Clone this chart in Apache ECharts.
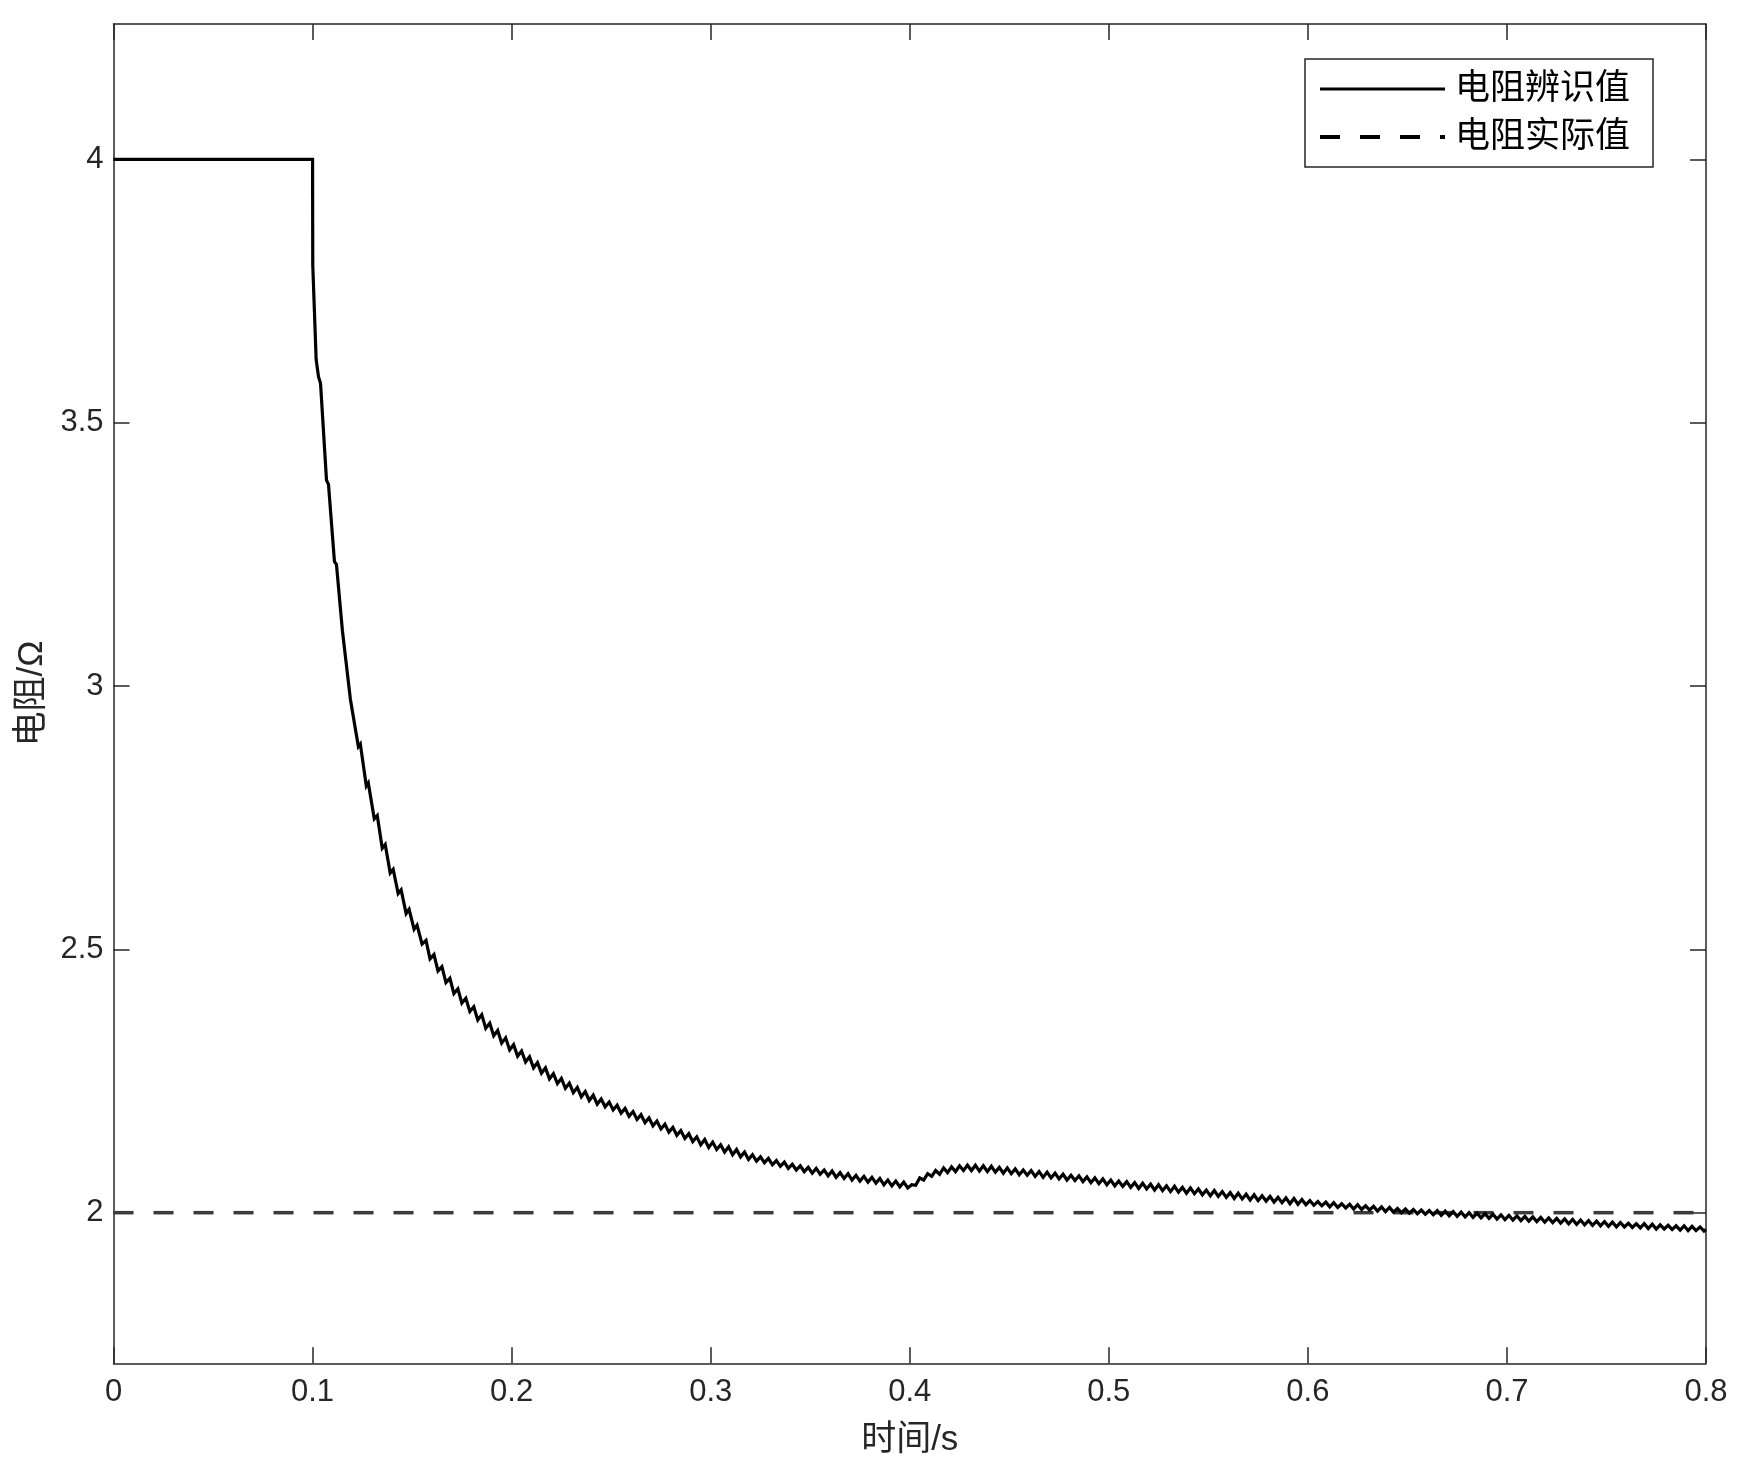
<!DOCTYPE html>
<html>
<head>
<meta charset="utf-8">
<script src="https://cdn.jsdelivr.net/npm/echarts@6/dist/echarts.min.js"></script>
<style>
  html, body { margin: 0; padding: 0; background: #fff; }
  #chart { width: 1746px; height: 1481px; }
</style>
</head>
<body>
<div id="chart"></div>
<script>
// ---------- data ----------
const xTicks = [0, 0.1, 0.2, 0.3, 0.4, 0.5, 0.6, 0.7, 0.8];
const yTicks = [2, 2.5, 3, 3.5, 4];
const seriesNames = ['电阻辨识值', '电阻实际值'];

// identified resistance: start-up and first steep steps (irregular sampling)
const earlyTimes = [0, 0.1, 0.1001, 0.1018, 0.103, 0.104, 0.107, 0.108, 0.111, 0.112,
  0.115, 0.116, 0.119, 0.120, 0.123, 0.124, 0.127, 0.128, 0.131, 0.1325,
  0.135, 0.1365, 0.139, 0.1405, 0.143, 0.1445, 0.147, 0.1485, 0.151, 0.1525];
const earlyValues = [4, 4, 3.800, 3.620, 3.587, 3.575, 3.391, 3.383, 3.236, 3.231,
  3.105, 3.102, 2.975, 2.978, 2.885, 2.890, 2.810, 2.816, 2.748, 2.754,
  2.692, 2.699, 2.645, 2.652, 2.606, 2.613, 2.568, 2.576, 2.538, 2.546];

// identified resistance: rippled part, one reading every 0.002 s from 0.155 s
const rippleStart = 0.155;
const rippleStep = 0.002;
const rippleValues = [
  // 0.155 - 0.245
  2.510, 2.517, 2.482, 2.490, 2.459, 2.467, 2.437, 2.445, 2.416, 2.425,
  2.398, 2.407, 2.382, 2.391, 2.366, 2.376, 2.350, 2.360, 2.336, 2.346,
  2.322, 2.332, 2.309, 2.319, 2.297, 2.307, 2.286, 2.296, 2.275, 2.285,
  2.265, 2.275, 2.254, 2.264, 2.245, 2.255, 2.236, 2.246, 2.228, 2.238,
  2.220, 2.230, 2.213, 2.223, 2.206, 2.216,
  // 0.247 - 0.319
  2.201, 2.210, 2.195, 2.204, 2.189, 2.198, 2.183, 2.192, 2.177, 2.186,
  2.171, 2.180, 2.165, 2.174, 2.159, 2.168, 2.153, 2.162, 2.147, 2.156,
  2.141, 2.150, 2.135, 2.144, 2.129, 2.139, 2.124, 2.134, 2.120, 2.129,
  2.115, 2.125, 2.110, 2.120, 2.106, 2.115, 2.101,
  // 0.321 - 0.413
  2.110, 2.098, 2.106, 2.095, 2.103, 2.091, 2.099, 2.088, 2.096, 2.084,
  2.092, 2.081, 2.089, 2.078, 2.086, 2.075, 2.084, 2.073, 2.081, 2.070,
  2.079, 2.067, 2.076, 2.065, 2.074, 2.062, 2.071, 2.060, 2.069, 2.058,
  2.067, 2.056, 2.065, 2.053, 2.062, 2.051, 2.060, 2.049, 2.058, 2.047,
  2.053, 2.052, 2.066, 2.062, 2.074, 2.069, 2.080,
  // 0.415 - 0.599
  2.073, 2.085, 2.076, 2.087, 2.078, 2.089, 2.080, 2.090, 2.080, 2.090,
  2.079, 2.089, 2.078, 2.088, 2.077, 2.086, 2.075, 2.085, 2.074, 2.083,
  2.072, 2.081, 2.071, 2.080, 2.069, 2.078, 2.067, 2.077, 2.066, 2.075,
  2.064, 2.073, 2.062, 2.071, 2.061, 2.070, 2.059, 2.068, 2.057, 2.066,
  2.055, 2.064, 2.053, 2.062, 2.051, 2.060, 2.050, 2.059, 2.048, 2.057,
  2.046, 2.056, 2.045, 2.054, 2.043, 2.053, 2.042, 2.051, 2.040, 2.050,
  2.039, 2.048, 2.037, 2.047, 2.036, 2.045, 2.034, 2.043, 2.032, 2.042,
  2.031, 2.040, 2.029, 2.038, 2.027, 2.037, 2.026, 2.035, 2.024, 2.034,
  2.023, 2.032, 2.022, 2.031, 2.020, 2.029, 2.019, 2.028, 2.017, 2.027,
  2.016, 2.025, 2.015,
  // 0.601 - 0.799
  2.023, 2.014, 2.021, 2.013, 2.020, 2.011, 2.019, 2.010, 2.017, 2.009,
  2.016, 2.007, 2.015, 2.006, 2.013, 2.005, 2.012, 2.003, 2.011, 2.002,
  2.010, 2.001, 2.008, 2.000, 2.007, 1.999, 2.006, 1.998, 2.005, 1.997,
  2.004, 1.996, 2.004, 1.995, 2.003, 1.994, 2.002, 1.993, 2.001, 1.992,
  2.000, 1.991, 1.999, 1.990, 1.998, 1.989, 1.997, 1.988, 1.996, 1.987,
  1.995, 1.986, 1.994, 1.985, 1.993, 1.984, 1.992, 1.983, 1.991, 1.982,
  1.990, 1.981, 1.989, 1.980, 1.988, 1.979, 1.987, 1.978, 1.986, 1.977,
  1.985, 1.976, 1.984, 1.975, 1.983, 1.974, 1.982, 1.973, 1.981, 1.973,
  1.980, 1.972, 1.979, 1.971, 1.979, 1.970, 1.978, 1.969, 1.977, 1.969,
  1.976, 1.968, 1.975, 1.967, 1.975, 1.966, 1.974, 1.966, 1.973, 1.965
];
const tailTimes = [0.8];
const tailValues = [1.968];

// actual resistance
const actualTimes = [0, 0.8];
const actualValues = [2, 2];

// ---------- build series data ----------
const identData = [];
earlyTimes.forEach((t, i) => identData.push([t, earlyValues[i]]));
rippleValues.forEach((v, i) => identData.push([+(rippleStart + i * rippleStep).toFixed(4), v]));
tailTimes.forEach((t, i) => identData.push([t, tailValues[i]]));
const actualData = actualTimes.map((t, i) => [t, actualValues[i]]);

const axisColor = '#262626';
const latin = "'Liberation Sans', Arial, Helvetica, sans-serif";
const mixed = "'Liberation Sans', 'Noto Sans CJK SC', sans-serif";

const lineAxis = { show: true, onZero: false, lineStyle: { color: axisColor, width: 1.5 } };
const tickStyle = { color: axisColor, width: 1.5 };

const chart = echarts.init(document.getElementById('chart'), null, { renderer: 'canvas' });
chart.setOption({
  animation: false,
  backgroundColor: '#ffffff',
  grid: { left: 113.5, top: 24, width: 1592.5, height: 1339.3, containLabel: false },
  xAxis: [
    {
      type: 'value', position: 'bottom', min: xTicks[0], max: xTicks[xTicks.length - 1], interval: 0.1,
      axisLine: lineAxis,
      axisTick: { show: true, inside: true, length: 16, lineStyle: tickStyle },
      axisLabel: { show: true, fontSize: 31, color: axisColor, fontFamily: latin, margin: 14 },
      splitLine: { show: false },
      name: '时间/s', nameLocation: 'middle', nameGap: 60,
      nameTextStyle: { fontSize: 35, color: axisColor, fontFamily: mixed }
    },
    {
      type: 'value', position: 'top', min: xTicks[0], max: xTicks[xTicks.length - 1], interval: 0.1,
      axisLine: lineAxis,
      axisTick: { show: true, inside: true, length: 16, lineStyle: tickStyle },
      axisLabel: { show: false },
      splitLine: { show: false }
    }
  ],
  yAxis: [
    {
      type: 'value', position: 'left', min: 1.714, max: 4.257,
      axisLine: lineAxis,
      axisTick: { show: true, inside: true, length: 16, lineStyle: tickStyle, customValues: yTicks },
      axisLabel: { show: true, fontSize: 31, color: axisColor, fontFamily: latin, margin: 10, customValues: yTicks },
      splitLine: { show: false },
      name: '电阻/Ω', nameLocation: 'middle', nameGap: 60, nameRotate: 90,
      nameTextStyle: { fontSize: 35, color: axisColor, fontFamily: mixed }
    },
    {
      type: 'value', position: 'right', min: 1.714, max: 4.257,
      axisLine: lineAxis,
      axisTick: { show: true, inside: true, length: 16, lineStyle: tickStyle, customValues: yTicks },
      axisLabel: { show: false, customValues: yTicks },
      splitLine: { show: false }
    }
  ],
  legend: {
    show: true,
    orient: 'vertical',
    left: 1305, top: 59,
    padding: [10, 23, 10, 13],
    itemGap: 8,
    itemWidth: 125,
    itemHeight: 14,
    borderColor: axisColor,
    borderWidth: 1.5,
    backgroundColor: '#ffffff',
    selectedMode: false,
    itemStyle: { opacity: 0, color: 'rgba(0,0,0,0)', borderWidth: 0 },
    textStyle: { fontSize: 35, color: '#000', fontFamily: mixed, lineHeight: 40, padding: [0, 0, 0, 5] },
    data: [
      { name: seriesNames[0], lineStyle: { color: '#000', width: 3.2, opacity: 1 } },
      { name: seriesNames[1], lineStyle: { color: '#000', width: 4, opacity: 1 } }
    ]
  },
  series: [
    {
      name: seriesNames[0], type: 'line', xAxisIndex: 0, yAxisIndex: 0,
      data: identData, symbol: 'none', showSymbol: false, smooth: false,
      lineStyle: { color: '#000', width: 3.2, join: 'miter' },
      itemStyle: { color: '#000' },
      clip: true, z: 3
    },
    {
      name: seriesNames[1], type: 'line', xAxisIndex: 0, yAxisIndex: 0,
      data: actualData, symbol: 'none', showSymbol: false,
      lineStyle: { color: '#3a3a3a', width: 3.5, type: [20, 20] },
      itemStyle: { color: '#000' },
      clip: true, z: 2
    }
  ]
});
</script>
</body>
</html>
